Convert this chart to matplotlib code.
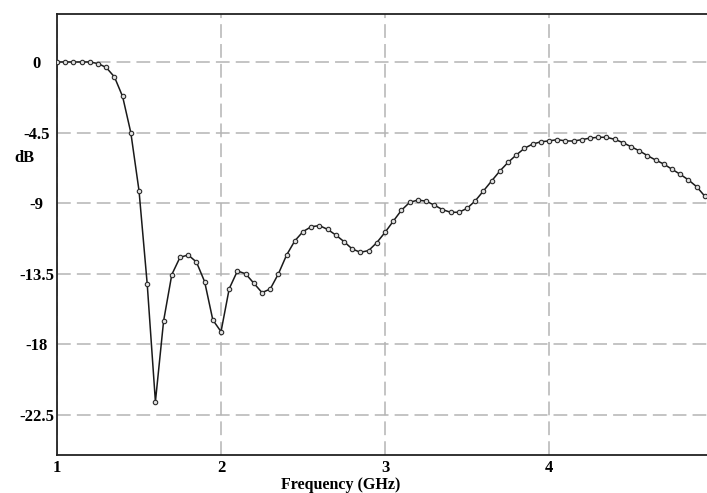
import numpy as np
import matplotlib
matplotlib.use("Agg")
import matplotlib.pyplot as plt

# Frequency sweep (GHz), 0.05 GHz step
freq = np.round(np.arange(1.0, 4.951, 0.05), 2)

db = [0, 0, 0, 0, 0, -0.1, -0.35, -0.95, -2.2, -4.5,
      -8.2, -14.15, -21.65, -16.5, -13.55, -12.45, -12.3, -12.75, -14.0, -16.44,
      -17.19, -14.45, -13.32, -13.5, -14.1, -14.7, -14.47, -13.5, -12.3, -11.4,
      -10.81, -10.5, -10.43, -10.67, -11.03, -11.45, -11.92, -12.13, -12.02, -11.51,
      -10.86, -10.15, -9.45, -8.95, -8.8, -8.87, -9.12, -9.41, -9.58, -9.58,
      -9.33, -8.85, -8.22, -7.58, -6.95, -6.4, -5.93, -5.5, -5.23, -5.09,
      -5.03, -4.95, -5.03, -5.04, -4.95, -4.85, -4.8, -4.8, -4.93, -5.14,
      -5.4, -5.66, -5.97, -6.25, -6.51, -6.84, -7.16, -7.52, -7.95, -8.56]

xticks = [1, 2, 3, 4]
yticks = [0, -4.5, -9, -13.5, -18, -22.5]
ytick_labels = ['0', '-4.5', '-9', '-13.5', '-18', '-22.5']

plt.rcParams['font.family'] = ['Liberation Serif', 'DejaVu Serif']
plt.rcParams['font.weight'] = 'bold'

fig = plt.figure(figsize=(7.07, 4.93), dpi=100)
ax = fig.add_axes([57 / 707, 38 / 493, 650 / 707, 441.5 / 493])

ax.plot(freq, db, color='#1a1a1a', linewidth=1.1, marker='o', markersize=3.2,
        markerfacecolor='#e0e0e0', markeredgecolor='#2a2a2a', markeredgewidth=0.8,
        zorder=3)

ax.set_xlim(1, 4.963)
ax.set_ylim(-25.05, 3.09)

ax.set_xticks(xticks)
ax.set_yticks(yticks)
ax.set_yticklabels(ytick_labels)
ax.tick_params(length=0, labelsize=12)
ax.tick_params(axis='x', pad=3.5)
for lab in ax.get_yticklabels():
    lab.set_horizontalalignment('center')
ax.tick_params(axis='y', pad=14.5)
for lab in ax.get_xticklabels() + ax.get_yticklabels():
    lab.set_fontweight('bold')

ax.grid(True, color='#b4b4b4', linestyle=(0, (9, 4)), linewidth=1.1)
ax.set_axisbelow(True)

ax.spines['right'].set_visible(False)
for s in ['left', 'bottom', 'top']:
    ax.spines[s].set_linewidth(1.3)
    ax.spines[s].set_color('#222222')

fig.text(341 / 707, 1 - 485 / 493, 'Frequency (GHz)', ha='center', va='center',
         fontsize=11.5, fontweight='bold')
fig.text(24 / 707, 1 - 158 / 493, 'dB', ha='center', va='center',
         fontsize=12, fontweight='bold')

fig.savefig('out.png', dpi=100)
